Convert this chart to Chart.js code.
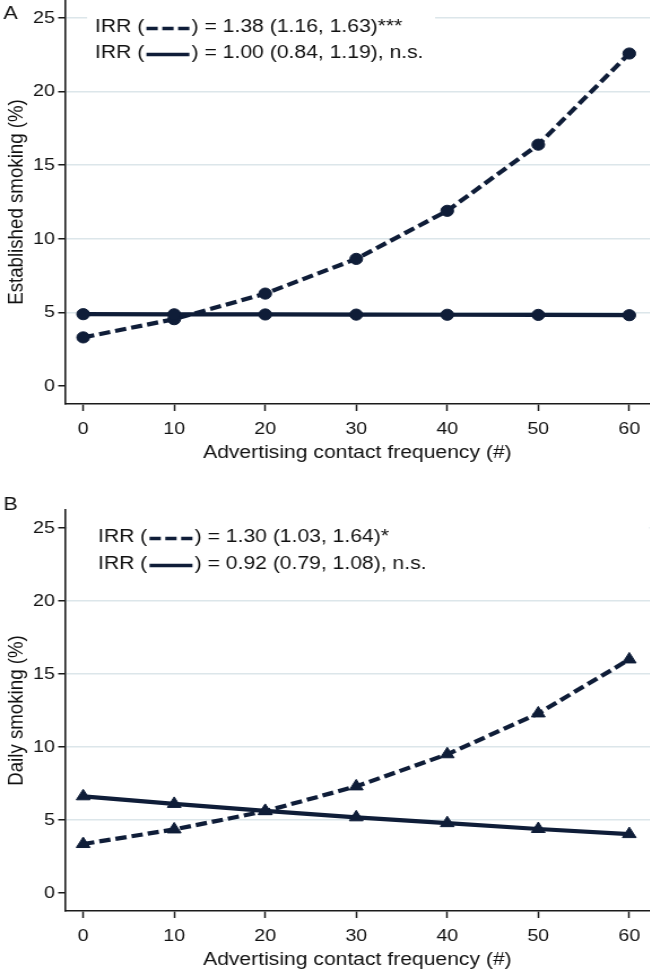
<!DOCTYPE html>
<html>
<head>
<meta charset="utf-8">
<script src="https://cdn.jsdelivr.net/npm/chart.js@4.4.1/dist/chart.umd.min.js"></script>
<style>
  html, body { margin: 0; padding: 0; background: #fff; }
  body { width: 650px; height: 977px; position: relative; overflow: hidden; }
  /* the source figure is stretched a little horizontally, so the charts are drawn narrow and scaled */
  .panel { position: absolute; left: 0; width: 575px; transform: scaleX(1.13); transform-origin: 0 0; }
  #panelA { top: 0; height: 470px; }
  #panelB { top: 480px; height: 497px; }
</style>
</head>
<body>
<div class="panel" id="panelA"><canvas id="chartA" width="575" height="470"></canvas></div>
<div class="panel" id="panelB"><canvas id="chartB" width="575" height="497"></canvas></div>
<script>
const contactFrequency = [0, 10, 20, 30, 40, 50, 60];

const establishedDashed = [3.29, 4.53, 6.27, 8.63, 11.9, 16.4, 22.6];
const establishedSolid = [4.87, 4.86, 4.85, 4.84, 4.83, 4.82, 4.80];
const dailyDashed = [3.35, 4.35, 5.6, 7.3, 9.5, 12.3, 16.0];
const dailySolid = [6.62, 6.1, 5.62, 5.18, 4.78, 4.38, 4.03];

const xTickValues = [0, 10, 20, 30, 40, 50, 60];
const yTickValues = [0, 5, 10, 15, 20, 25];

const establishedIrr = [') = 1.38 (1.16, 1.63)***', ') = 1.00 (0.84, 1.19), n.s.'];
const dailyIrr = [') = 1.30 (1.03, 1.64)*', ') = 0.92 (0.79, 1.08), n.s.'];

const navy = '#0f1d38';
const gridBlue = '#dce6ea';
const axisBlack = '#1b1b1b';
const textColor = '#111';
const family = '"Liberation Sans", Arial, sans-serif';

function points(values) {
    return contactFrequency.map((x, i) => ({ x, y: values[i] }));
}

function lineDataset(values, dashed, marker) {
    return {
        data: points(values),
        borderColor: navy,
        backgroundColor: navy,
        borderWidth: 4.2,
        borderDash: dashed ? [10, 4.5] : [],
        pointStyle: marker,
        pointRadius: marker === 'triangle' ? 7 : 5.6,
        pointBorderWidth: 1,
        pointBorderColor: navy,
        pointBackgroundColor: navy,
        tension: 0,
        clip: false
    };
}

// panel letter plus the IRR text block with its little line samples
function legendPlugin(letter, letterY, rows, box) {
    return {
        id: 'irrLegend',
        beforeDatasetsDraw(chart) {
            const ctx = chart.ctx;
            ctx.save();
            ctx.fillStyle = '#fff';
            ctx.fillRect(box.left, box.top, box.width, box.height);
            ctx.font = '18.7px ' + family;
            ctx.textBaseline = 'middle';
            rows.forEach((text, i) => {
                const y = box.textTop + i * box.rowGap;
                let x = box.textLeft;
                ctx.fillStyle = textColor;
                ctx.fillText('IRR (', x, y);
                x += ctx.measureText('IRR (').width + 2;
                ctx.strokeStyle = navy;
                ctx.lineWidth = 3.6;
                ctx.setLineDash(i === 0 ? [10, 4] : []);
                ctx.beginPath();
                ctx.moveTo(x, y + 1.5);
                ctx.lineTo(x + 38, y + 1.5);
                ctx.stroke();
                ctx.setLineDash([]);
                x += 40;
                ctx.fillText(text, x, y);
            });
            ctx.font = '19px ' + family;
            ctx.fillStyle = textColor;
            ctx.fillText(letter, 3, letterY);
            ctx.restore();
        }
    };
}

function noEdgePadding(axis) {
    axis.paddingTop = 0;
    axis.paddingBottom = 0;
    axis.paddingLeft = 0;
    axis.paddingRight = 0;
}

function scales(yTitle) {
    return {
        x: {
            type: 'linear',
            min: -2,
            max: 62.25,
            afterBuildTicks: axis => { axis.ticks = xTickValues.map(value => ({ value })); },
            afterFit: axis => { axis.height = 66; noEdgePadding(axis); },
            grid: { drawOnChartArea: false, drawTicks: true, tickLength: 7, tickColor: axisBlack, tickWidth: 1.5 },
            border: { color: axisBlack, width: 1.6 },
            ticks: { color: textColor, font: { family, size: 17.3 }, padding: 8, maxRotation: 0, autoSkip: false },
            title: {
                display: true,
                text: 'Advertising contact frequency (#)',
                color: textColor,
                font: { family, size: 18.7 },
                padding: { top: 0, bottom: 5.8 }
            }
        },
        y: {
            min: -1.24,
            max: 26.24,
            afterBuildTicks: axis => { axis.ticks = yTickValues.map(value => ({ value })); },
            afterFit: axis => { axis.width = 57.5; noEdgePadding(axis); },
            grid: {
                color: c => (c.tick && c.tick.value === 0 ? 'rgba(0,0,0,0)' : gridBlue),
                lineWidth: 1.5,
                tickLength: 6,
                tickColor: axisBlack,
                tickWidth: 1.5
            },
            border: { color: axisBlack, width: 1.6 },
            ticks: { color: textColor, font: { family, size: 17.3 }, padding: 3 },
            title: {
                display: true,
                text: yTitle,
                color: textColor,
                font: { family, size: 18.7 },
                padding: { top: 3.8, bottom: 0 }
            }
        }
    };
}

function makeChart(canvasId, dashed, solid, marker, yTitle, padTop, plugin) {
    return new Chart(document.getElementById(canvasId), {
        type: 'line',
        data: {
            datasets: [
                lineDataset(solid, false, marker),
                lineDataset(dashed, true, marker)
            ]
        },
        options: {
            responsive: false,
            animation: false,
            layout: { autoPadding: false, padding: { top: padTop, right: 0, bottom: 0, left: 0 } },
            plugins: { legend: { display: false }, tooltip: { enabled: false } },
            scales: scales(yTitle)
        },
        plugins: [plugin]
    });
}

makeChart('chartA', establishedDashed, establishedSolid, 'circle', 'Established smoking (%)', 0,
    legendPlugin('A', 14, establishedIrr, { left: 77, top: 0, width: 308, height: 66, textLeft: 84, textTop: 27, rowGap: 26 }));

makeChart('chartB', dailyDashed, dailySolid, 'triangle', 'Daily smoking (%)', 30,
    legendPlugin('B', 25, dailyIrr, { left: 59.5, top: 31, width: 515, height: 66, textLeft: 86.7, textTop: 57, rowGap: 27 }));
</script>
</body>
</html>
